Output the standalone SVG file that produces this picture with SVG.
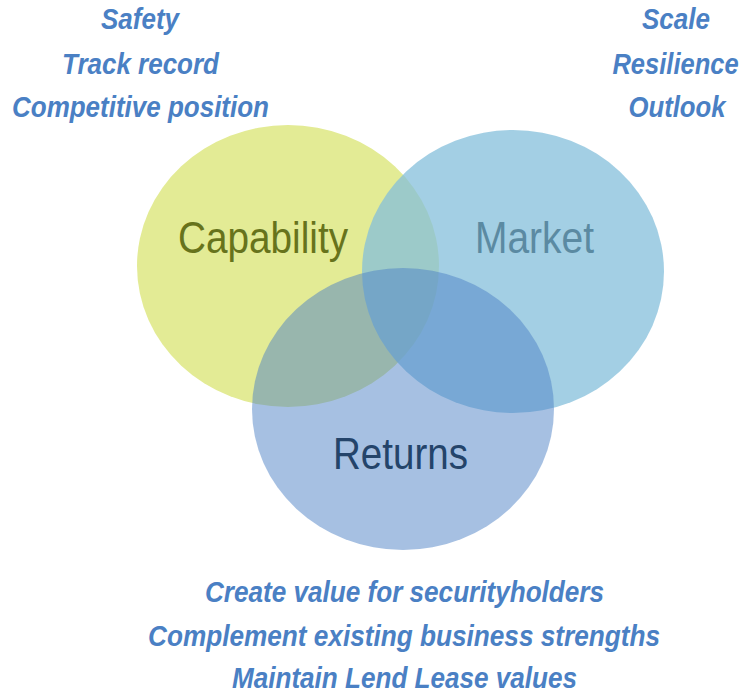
<svg xmlns="http://www.w3.org/2000/svg" width="744" height="693" viewBox="0 0 744 693">
  <style>
    .note { font-family: "Liberation Sans", Arial, sans-serif; font-weight: bold; font-style: italic; font-size: 29px; fill: #4a80c4; text-anchor: middle; }
    .title { font-family: "Liberation Sans", Arial, sans-serif; font-size: 45px; text-anchor: middle; }
  </style>
  <rect width="744" height="693" fill="#ffffff"/>

  <!-- Capability circle -->
  <g id="capability">
    <ellipse cx="288" cy="266" rx="151" ry="141" fill="#e3eb95"/>
    <text class="title" x="263" y="253" fill="#67731c" textLength="170" lengthAdjust="spacingAndGlyphs">Capability</text>
  </g>

  <!-- Market circle -->
  <g id="market">
    <ellipse cx="513" cy="271.5" rx="151" ry="141.5" fill="#84bfdb" fill-opacity="0.75"/>
    <text class="title" x="534.5" y="253" fill="#5b8aa2" textLength="119" lengthAdjust="spacingAndGlyphs">Market</text>
  </g>

  <!-- Returns circle -->
  <g id="returns">
    <ellipse cx="403" cy="409" rx="151" ry="141" fill="#4d81c5" fill-opacity="0.5"/>
    <text class="title" x="400.5" y="469" fill="#24446a" textLength="135" lengthAdjust="spacingAndGlyphs">Returns</text>
  </g>

  <!-- Capability criteria -->
  <g id="capability-notes">
    <text class="note" x="140" y="28.5" textLength="78" lengthAdjust="spacingAndGlyphs">Safety</text>
    <text class="note" x="140.5" y="73.5" textLength="157" lengthAdjust="spacingAndGlyphs">Track record</text>
    <text class="note" x="140.5" y="117" textLength="257" lengthAdjust="spacingAndGlyphs">Competitive position</text>
  </g>

  <!-- Market criteria -->
  <g id="market-notes">
    <text class="note" x="676" y="28.5" textLength="68" lengthAdjust="spacingAndGlyphs">Scale</text>
    <text class="note" transform="translate(675.5 73.5) scale(0.88 1)" x="0" y="0">Resilience</text>
    <text class="note" x="677" y="117" textLength="97" lengthAdjust="spacingAndGlyphs">Outlook</text>
  </g>

  <!-- Returns criteria -->
  <g id="returns-notes">
    <text class="note" x="404.5" y="602" textLength="399" lengthAdjust="spacingAndGlyphs">Create value for securityholders</text>
    <text class="note" x="404" y="645.5" textLength="512" lengthAdjust="spacingAndGlyphs">Complement existing business strengths</text>
    <text class="note" x="404.5" y="687.5" textLength="345" lengthAdjust="spacingAndGlyphs">Maintain Lend Lease values</text>
  </g>
</svg>
